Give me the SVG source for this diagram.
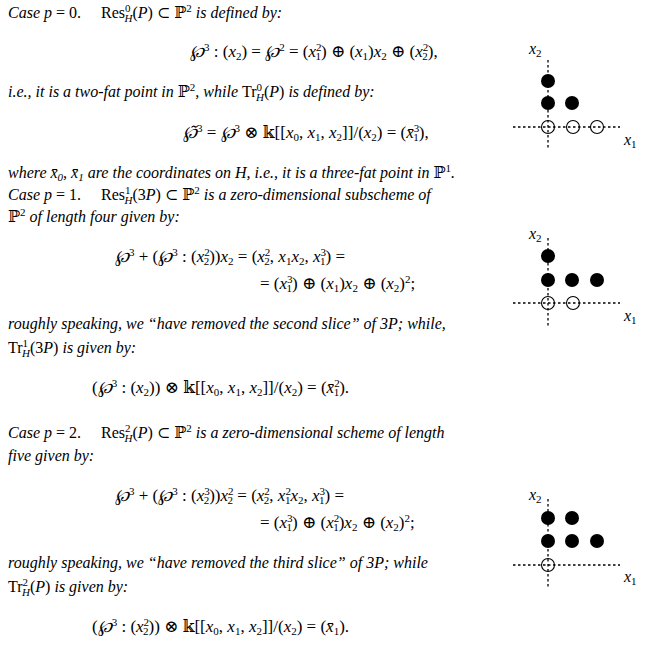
<svg xmlns="http://www.w3.org/2000/svg" width="647" height="650" viewBox="0 0 647 650">
<style>
text{font-family:"Liberation Serif","DejaVu Serif",serif;font-size:16px;fill:#000;white-space:pre}
.e{font-size:17px}
.i{font-style:italic}
.s{font-size:11px}
.ax{stroke:#000;stroke-width:1.3;stroke-dasharray:2.5,2.5;fill:none}
.f{fill:#000}
.o{fill:none;stroke:#000;stroke-width:1.1}
</style>
<rect width="647" height="650" fill="#fff"/>
<g id="text">
<text x="8" y="18"><tspan class="i">Case p</tspan> = 0.     Res<tspan class="s" dy="-6">0</tspan><tspan class="s i" dx="-6" dy="10">H</tspan><tspan dy="-4">(</tspan><tspan class="i">P</tspan>) ⊂ ℙ<tspan class="s" dy="-6">2</tspan><tspan class="i" dy="6"> is defined by:</tspan></text>
<text class="e" x="190" y="57"><tspan class="i">℘</tspan><tspan class="s" dy="-6">3</tspan><tspan dy="6"> : (</tspan><tspan class="i">x</tspan><tspan class="s" dy="3">2</tspan><tspan dy="-3">) = </tspan><tspan class="i">℘</tspan><tspan class="s" dy="-6">2</tspan><tspan dy="6"> = (</tspan><tspan class="i">x</tspan><tspan class="s" dy="-6">2</tspan><tspan class="s" dx="-6" dy="9">1</tspan><tspan dy="-3">) ⊕ (</tspan><tspan class="i">x</tspan><tspan class="s" dy="3">1</tspan><tspan dy="-3">)</tspan><tspan class="i">x</tspan><tspan class="s" dy="3">2</tspan><tspan dy="-3"> ⊕ (</tspan><tspan class="i">x</tspan><tspan class="s" dy="-6">2</tspan><tspan class="s" dx="-6" dy="9">2</tspan><tspan dy="-3">),</tspan></text>
<text x="8" y="97" class="i">i.e., it is a two-fat point in <tspan font-style="normal">ℙ</tspan><tspan class="s" font-style="normal" dy="-6">2</tspan><tspan dy="6">, while </tspan><tspan font-style="normal">Tr</tspan><tspan class="s" font-style="normal" dy="-6">0</tspan><tspan class="s" dx="-6" dy="10">H</tspan><tspan font-style="normal" dy="-4">(</tspan>P<tspan font-style="normal">)</tspan> is defined by:</text>
<text class="e" x="183" y="138"><tspan class="i">℘̃</tspan><tspan class="s" dy="-6">3</tspan><tspan dy="6"> = </tspan><tspan class="i">℘</tspan><tspan class="s" dy="-6">3</tspan><tspan dy="6"> ⊗ 𝕜[[</tspan><tspan class="i">x</tspan><tspan class="s" dy="3">0</tspan><tspan dy="-3">, </tspan><tspan class="i">x</tspan><tspan class="s" dy="3">1</tspan><tspan dy="-3">, </tspan><tspan class="i">x</tspan><tspan class="s" dy="3">2</tspan><tspan dy="-3">]]/(</tspan><tspan class="i">x</tspan><tspan class="s" dy="3">2</tspan><tspan dy="-3">) = (</tspan><tspan class="i">x̄</tspan><tspan class="s" dy="-6">3</tspan><tspan class="s" dx="-6" dy="9">1</tspan><tspan dy="-3">),</tspan></text>
<text x="8" y="178" class="i">where x̄<tspan class="s" dy="3">0</tspan><tspan dy="-3">, x̄</tspan><tspan class="s" dy="3">1</tspan><tspan dy="-3"> are the coordinates on H, i.e., it is a three-fat point in </tspan><tspan font-style="normal">ℙ</tspan><tspan class="s" font-style="normal" dy="-6">1</tspan><tspan dy="6">.</tspan></text>
<text x="8" y="200"><tspan class="i">Case p</tspan> = 1.     Res<tspan class="s" dy="-6">1</tspan><tspan class="s i" dx="-6" dy="10">H</tspan><tspan dy="-4">(3</tspan><tspan class="i">P</tspan>) ⊂ ℙ<tspan class="s" dy="-6">2</tspan><tspan class="i" dy="6"> is a zero-dimensional subscheme of</tspan></text>
<text x="8" y="222">ℙ<tspan class="s" dy="-6">2</tspan><tspan class="i" dy="6"> of length four given by:</tspan></text>
<text class="e" x="115" y="262"><tspan class="i">℘</tspan><tspan class="s" dy="-6">3</tspan><tspan dy="6"> + (</tspan><tspan class="i">℘</tspan><tspan class="s" dy="-6">3</tspan><tspan dy="6"> : (</tspan><tspan class="i">x</tspan><tspan class="s" dy="-6">2</tspan><tspan class="s" dx="-6" dy="9">2</tspan><tspan dy="-3">))</tspan><tspan class="i">x</tspan><tspan class="s" dy="3">2</tspan><tspan dy="-3"> = (</tspan><tspan class="i">x</tspan><tspan class="s" dy="-6">2</tspan><tspan class="s" dx="-6" dy="9">2</tspan><tspan dy="-3">, </tspan><tspan class="i">x</tspan><tspan class="s" dy="3">1</tspan><tspan class="i" dy="-3">x</tspan><tspan class="s" dy="3">2</tspan><tspan dy="-3">, </tspan><tspan class="i">x</tspan><tspan class="s" dy="-6">3</tspan><tspan class="s" dx="-6" dy="9">1</tspan><tspan dy="-3">) =</tspan></text>
<text class="e" x="260" y="289">= (<tspan class="i">x</tspan><tspan class="s" dy="-6">3</tspan><tspan class="s" dx="-6" dy="9">1</tspan><tspan dy="-3">) ⊕ (</tspan><tspan class="i">x</tspan><tspan class="s" dy="3">1</tspan><tspan dy="-3">)</tspan><tspan class="i">x</tspan><tspan class="s" dy="3">2</tspan><tspan dy="-3"> ⊕ (</tspan><tspan class="i">x</tspan><tspan class="s" dy="3">2</tspan><tspan dy="-3">)</tspan><tspan class="s" dy="-6">2</tspan><tspan dy="6">;</tspan></text>
<text x="8" y="329" class="i">roughly speaking, we “have removed the second slice” of 3P; while,</text>
<text x="8" y="353">Tr<tspan class="s" dy="-6">1</tspan><tspan class="s i" dx="-6" dy="10">H</tspan><tspan dy="-4">(3</tspan><tspan class="i">P</tspan>)<tspan class="i"> is given by:</tspan></text>
<text class="e" x="92" y="393">(<tspan class="i">℘</tspan><tspan class="s" dy="-6">3</tspan><tspan dy="6"> : (</tspan><tspan class="i">x</tspan><tspan class="s" dy="3">2</tspan><tspan dy="-3">)) ⊗ 𝕜[[</tspan><tspan class="i">x</tspan><tspan class="s" dy="3">0</tspan><tspan dy="-3">, </tspan><tspan class="i">x</tspan><tspan class="s" dy="3">1</tspan><tspan dy="-3">, </tspan><tspan class="i">x</tspan><tspan class="s" dy="3">2</tspan><tspan dy="-3">]]/(</tspan><tspan class="i">x</tspan><tspan class="s" dy="3">2</tspan><tspan dy="-3">) = (</tspan><tspan class="i">x̄</tspan><tspan class="s" dy="-6">2</tspan><tspan class="s" dx="-6" dy="9">1</tspan><tspan dy="-3">).</tspan></text>
<text x="8" y="438"><tspan class="i">Case p</tspan> = 2.     Res<tspan class="s" dy="-6">2</tspan><tspan class="s i" dx="-6" dy="10">H</tspan><tspan dy="-4">(</tspan><tspan class="i">P</tspan>) ⊂ ℙ<tspan class="s" dy="-6">2</tspan><tspan class="i" dy="6"> is a zero-dimensional scheme of length</tspan></text>
<text x="8" y="461" class="i">five given by:</text>
<text class="e" x="115" y="501"><tspan class="i">℘</tspan><tspan class="s" dy="-6">3</tspan><tspan dy="6"> + (</tspan><tspan class="i">℘</tspan><tspan class="s" dy="-6">3</tspan><tspan dy="6"> : (</tspan><tspan class="i">x</tspan><tspan class="s" dy="-6">3</tspan><tspan class="s" dx="-6" dy="9">2</tspan><tspan dy="-3">))</tspan><tspan class="i">x</tspan><tspan class="s" dy="-6">2</tspan><tspan class="s" dx="-6" dy="9">2</tspan><tspan dy="-3"> = (</tspan><tspan class="i">x</tspan><tspan class="s" dy="-6">2</tspan><tspan class="s" dx="-6" dy="9">2</tspan><tspan dy="-3">, </tspan><tspan class="i">x</tspan><tspan class="s" dy="-6">2</tspan><tspan class="s" dx="-6" dy="9">1</tspan><tspan class="i" dy="-3">x</tspan><tspan class="s" dy="3">2</tspan><tspan dy="-3">, </tspan><tspan class="i">x</tspan><tspan class="s" dy="-6">3</tspan><tspan class="s" dx="-6" dy="9">1</tspan><tspan dy="-3">) =</tspan></text>
<text class="e" x="260" y="528">= (<tspan class="i">x</tspan><tspan class="s" dy="-6">3</tspan><tspan class="s" dx="-6" dy="9">1</tspan><tspan dy="-3">) ⊕ (</tspan><tspan class="i">x</tspan><tspan class="s" dy="-6">2</tspan><tspan class="s" dx="-6" dy="9">1</tspan><tspan dy="-3">)</tspan><tspan class="i">x</tspan><tspan class="s" dy="3">2</tspan><tspan dy="-3"> ⊕ (</tspan><tspan class="i">x</tspan><tspan class="s" dy="3">2</tspan><tspan dy="-3">)</tspan><tspan class="s" dy="-6">2</tspan><tspan dy="6">;</tspan></text>
<text x="8" y="568" class="i">roughly speaking, we “have removed the third slice” of 3P; while</text>
<text x="8" y="592">Tr<tspan class="s" dy="-6">2</tspan><tspan class="s i" dx="-6" dy="10">H</tspan><tspan dy="-4">(</tspan><tspan class="i">P</tspan>)<tspan class="i"> is given by:</tspan></text>
<text class="e" x="92" y="632">(<tspan class="i">℘</tspan><tspan class="s" dy="-6">3</tspan><tspan dy="6"> : (</tspan><tspan class="i">x</tspan><tspan class="s" dy="-6">2</tspan><tspan class="s" dx="-6" dy="9">2</tspan><tspan dy="-3">)) ⊗ 𝕜[[</tspan><tspan class="i">x</tspan><tspan class="s" dy="3">0</tspan><tspan dy="-3">, </tspan><tspan class="i">x</tspan><tspan class="s" dy="3">1</tspan><tspan dy="-3">, </tspan><tspan class="i">x</tspan><tspan class="s" dy="3">2</tspan><tspan dy="-3">]]/(</tspan><tspan class="i">x</tspan><tspan class="s" dy="3">2</tspan><tspan dy="-3">) = (</tspan><tspan class="i">x̄</tspan><tspan class="s" dy="3">1</tspan><tspan dy="-3">).</tspan></text>
</g>
<g id="diagram1">
<line class="ax" x1="548" y1="60" x2="548" y2="150"/><line class="ax" x1="513" y1="127" x2="620" y2="127"/>
<circle class="f" cx="548" cy="81" r="7"/><circle class="f" cx="548" cy="103" r="7"/><circle class="f" cx="572" cy="103" r="7"/>
<circle class="o" cx="548" cy="127" r="6.5"/><circle class="o" cx="573" cy="127" r="6.5"/><circle class="o" cx="597" cy="127" r="6.5"/>
<text x="529" y="54"><tspan class="i">x</tspan><tspan class="s" dy="3">2</tspan></text>
<text x="624" y="145"><tspan class="i">x</tspan><tspan class="s" dy="3">1</tspan></text>
</g>
<g id="diagram2">
<line class="ax" x1="548" y1="238" x2="548" y2="326"/><line class="ax" x1="513" y1="303" x2="620" y2="303"/>
<circle class="f" cx="548" cy="256" r="7"/><circle class="f" cx="548" cy="280" r="7"/><circle class="f" cx="572" cy="280" r="7"/><circle class="f" cx="597" cy="280" r="7"/>
<circle class="o" cx="548" cy="303" r="6.5"/><circle class="o" cx="573" cy="303" r="6.5"/>
<text x="529" y="239"><tspan class="i">x</tspan><tspan class="s" dy="3">2</tspan></text>
<text x="624" y="321"><tspan class="i">x</tspan><tspan class="s" dy="3">1</tspan></text>
</g>
<g id="diagram3">
<line class="ax" x1="548" y1="499" x2="548" y2="588"/><line class="ax" x1="513" y1="565" x2="620" y2="565"/>
<circle class="f" cx="548" cy="518" r="7"/><circle class="f" cx="572" cy="518" r="7"/><circle class="f" cx="548" cy="541" r="7"/><circle class="f" cx="572" cy="541" r="7"/><circle class="f" cx="597" cy="541" r="7"/>
<circle class="o" cx="548" cy="565" r="6.5"/>
<text x="529" y="500"><tspan class="i">x</tspan><tspan class="s" dy="3">2</tspan></text>
<text x="624" y="582"><tspan class="i">x</tspan><tspan class="s" dy="3">1</tspan></text>
</g>
<g id="connectors"/>
</svg>
